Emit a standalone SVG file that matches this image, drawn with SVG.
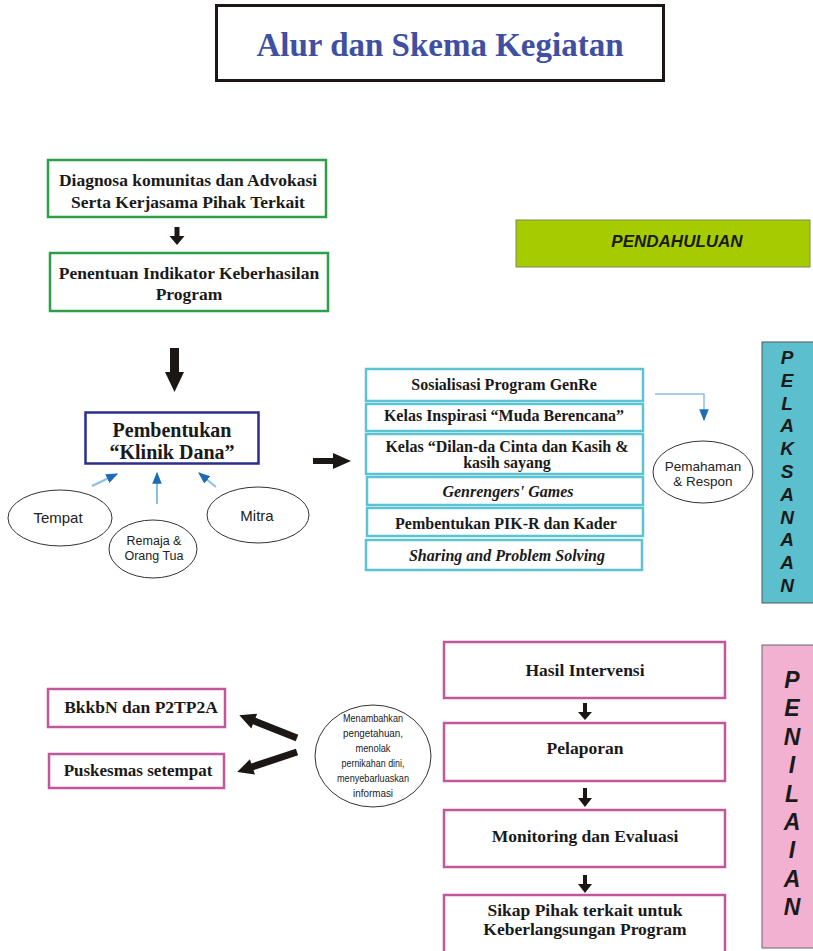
<svg xmlns="http://www.w3.org/2000/svg" width="813" height="951" viewBox="0 0 813 951">
<defs>
<style>
.serif{font-family:"Liberation Serif","Times New Roman",serif;font-weight:bold;fill:#1a1a1a;text-anchor:middle}
.sans{font-family:"Liberation Sans",Arial,sans-serif;fill:#222;text-anchor:middle}
.side{font-family:"Liberation Sans",Arial,sans-serif;font-weight:bold;font-style:italic;fill:#1a1a1a;text-anchor:middle}
.green{fill:#fff;stroke:#2e9e4a;stroke-width:2.5}
.cyan{fill:#fff;stroke:#5cc3d3;stroke-width:2.5}
.pink{fill:#fff;stroke:#c2579e;stroke-width:2.5}
.ell{fill:#fff;stroke:#333;stroke-width:1}
.blk{fill:#1c1714}
.blue{stroke:#8dbfe3;stroke-width:2;fill:none}
</style>
<marker id="bh2" viewBox="0 0 10 10" refX="9" refY="5" markerWidth="12" markerHeight="12" orient="auto" markerUnits="userSpaceOnUse">
<path d="M0,1 L10,5 L0,9 Z" fill="#1c6db3"/>
</marker>
</defs>
<rect width="813" height="951" fill="#fff"/>

<g id="title">
<rect x="216.5" y="5.5" width="447" height="75" fill="#fff" stroke="#1c1714" stroke-width="3"/>
<text x="440" y="56" class="serif" style="font-size:33px;fill:#3f4fa2">Alur dan Skema Kegiatan</text>
</g>

<g id="pendahuluan">
<rect x="516" y="220" width="294" height="47" fill="#a6cc00" stroke="#7d8a5a" stroke-width="1"/>
<text x="677" y="247" class="side" style="font-size:17px">PENDAHULUAN</text>
</g>

<g id="pelaksanaan">
<rect x="762" y="342" width="55" height="261" fill="#5bbfce" stroke="#555" stroke-width="1"/>
<g class="side" style="font-size:19px">
<text x="787" y="364">P</text><text x="787" y="387">E</text><text x="787" y="410">L</text><text x="787" y="432">A</text><text x="787" y="455">K</text><text x="787" y="478">S</text><text x="787" y="501">A</text><text x="787" y="524">N</text><text x="787" y="546">A</text><text x="787" y="569">A</text><text x="787" y="592">N</text>
</g>
</g>

<g id="penilaian">
<rect x="762" y="645" width="55" height="303" fill="#f3b1d1" stroke="#666" stroke-width="1"/>
<g class="side" style="font-size:23px">
<text x="792" y="688">P</text><text x="792" y="716">E</text><text x="792" y="745">N</text><text x="792" y="773">I</text><text x="792" y="802">L</text><text x="792" y="830">A</text><text x="792" y="858">I</text><text x="792" y="887">A</text><text x="792" y="915">N</text>
</g>
</g>

<g id="diagnosa">
<rect x="48" y="160" width="278" height="57" class="green"/>
<text x="188" y="186" class="serif" style="font-size:17.5px">Diagnosa komunitas dan Advokasi</text>
<text x="188" y="208" class="serif" style="font-size:17.5px">Serta Kerjasama Pihak Terkait</text>
</g>

<g id="penentuan">
<rect x="50" y="253" width="278" height="58" class="green"/>
<text x="189" y="279" class="serif" style="font-size:17.5px">Penentuan Indikator Keberhasilan</text>
<text x="189" y="300" class="serif" style="font-size:17.5px">Program</text>
</g>

<g id="klinik">
<rect x="85.5" y="412.5" width="173" height="51" fill="#fff" stroke="#2b2f8c" stroke-width="2.5"/>
<text x="172" y="437" class="serif" style="font-size:20px">Pembentukan</text>
<text x="172" y="459" class="serif" style="font-size:20px">“Klinik Dana”</text>
</g>

<g id="tempat">
<ellipse cx="60" cy="518" rx="52" ry="28" class="ell"/>
<text x="58" y="523" class="sans" style="font-size:15px">Tempat</text>
</g>
<g id="remaja">
<ellipse cx="153" cy="549" rx="44" ry="29" class="ell"/>
<text x="154" y="545" class="sans" style="font-size:12.5px">Remaja &amp;</text>
<text x="154" y="560" class="sans" style="font-size:12.5px">Orang Tua</text>
</g>
<g id="mitra">
<ellipse cx="258" cy="515" rx="51" ry="28" class="ell"/>
<text x="257" y="521" class="sans" style="font-size:15px">Mitra</text>
</g>

<g id="kegiatan">
<rect x="366" y="369" width="277" height="32" class="cyan"/>
<text x="504" y="390" class="serif" style="font-size:16px">Sosialisasi Program GenRe</text>
<rect x="366" y="404" width="277" height="27" class="cyan"/>
<text x="504" y="421" class="serif" style="font-size:16px">Kelas Inspirasi “Muda Berencana”</text>
<rect x="366" y="434" width="277" height="40" class="cyan"/>
<text x="507" y="452" class="serif" style="font-size:16px">Kelas “Dilan-da Cinta dan Kasih &amp;</text>
<text x="507" y="468" class="serif" style="font-size:16px">kasih sayang</text>
<rect x="367" y="477" width="276" height="28" class="cyan"/>
<text x="508" y="497" class="serif" style="font-size:16px;font-style:italic">Genrengers' Games</text>
<rect x="367" y="508" width="276" height="28" class="cyan"/>
<text x="506" y="529" class="serif" style="font-size:16px">Pembentukan PIK-R dan Kader</text>
<rect x="366" y="540" width="276" height="30" class="cyan"/>
<text x="507" y="561" class="serif" style="font-size:16px;font-style:italic">Sharing and Problem Solving</text>
</g>

<g id="pemahaman">
<ellipse cx="703" cy="472" rx="50" ry="31" class="ell"/>
<text x="703" y="471" class="sans" style="font-size:13.5px">Pemahaman</text>
<text x="703" y="486" class="sans" style="font-size:13.5px">&amp; Respon</text>
</g>

<g id="bkkbn">
<rect x="48" y="689" width="177" height="38" class="pink"/>
<text x="141" y="713" class="serif" style="font-size:17.5px">BkkbN dan P2TP2A</text>
</g>
<g id="puskesmas">
<rect x="49" y="754" width="175" height="34" class="pink"/>
<text x="138" y="776" class="serif" style="font-size:17px">Puskesmas setempat</text>
</g>

<g id="menambahkan">
<ellipse cx="373" cy="756" rx="58" ry="51" class="ell"/>
<g class="sans" style="font-size:11px">
<text x="373" y="722" textLength="60" lengthAdjust="spacingAndGlyphs">Menambahkan</text>
<text x="373" y="737" textLength="60" lengthAdjust="spacingAndGlyphs">pengetahuan,</text>
<text x="373" y="752" textLength="35" lengthAdjust="spacingAndGlyphs">menolak</text>
<text x="373" y="767" textLength="63" lengthAdjust="spacingAndGlyphs">pernikahan dini,</text>
<text x="373" y="782" textLength="72" lengthAdjust="spacingAndGlyphs">menyebarluaskan</text>
<text x="373" y="797" textLength="40" lengthAdjust="spacingAndGlyphs">informasi</text>
</g>
</g>

<g id="hasil">
<rect x="444" y="642" width="281" height="56" class="pink"/>
<text x="585" y="676" class="serif" style="font-size:17.5px">Hasil Intervensi</text>
</g>
<g id="pelaporan">
<rect x="444" y="723" width="281" height="58" class="pink"/>
<text x="585" y="754" class="serif" style="font-size:17.5px">Pelaporan</text>
</g>
<g id="monitoring">
<rect x="444" y="810" width="281" height="57" class="pink"/>
<text x="585" y="842" class="serif" style="font-size:17.5px">Monitoring dan Evaluasi</text>
</g>
<g id="sikap">
<rect x="444" y="895" width="281" height="60" class="pink"/>
<text x="585" y="916" class="serif" style="font-size:17.5px">Sikap Pihak terkait untuk</text>
<text x="585" y="935" class="serif" style="font-size:17.5px">Keberlangsungan Program</text>
</g>

<g id="connectors">
<path class="blk" d="M174.5,227 h5 v9 h5 l-7.5,9 l-7.5,-9 h5 Z"/>
<path class="blk" d="M170,348 h9 v24 h5 l-9.5,20 l-9.5,-20 h5 Z"/>
<path class="blk" d="M313,458 h20 v-5 l18,8 l-18,8 v-5 h-20 Z"/>
<line x1="92" y1="486" x2="117" y2="474" class="blue" marker-end="url(#bh2)"/>
<line x1="157" y1="504" x2="157" y2="473" class="blue" marker-end="url(#bh2)"/>
<line x1="216" y1="487" x2="199" y2="473" class="blue" marker-end="url(#bh2)"/>
<path d="M655,394 H704 V420" class="blue" style="stroke-width:1.5" marker-end="url(#bh2)"/>
<path class="blk" transform="translate(297,738) rotate(201.6)" d="M0,-3.5 L46,-3.5 L46,-8 L62,0 L46,8 L46,3.5 L0,3.5 Z"/>
<path class="blk" transform="translate(297,752) rotate(161.6)" d="M0,-3.5 L47,-3.5 L47,-8 L63,0 L47,8 L47,3.5 L0,3.5 Z"/>
<path class="blk" d="M583,703 h4 v9 h5 l-7,8 l-7,-8 h5 Z"/>
<path class="blk" d="M583,788 h4 v10 h5 l-7,9 l-7,-9 h5 Z"/>
<path class="blk" d="M583,875 h4 v9 h5 l-7,9 l-7,-9 h5 Z"/>
</g>
</svg>
